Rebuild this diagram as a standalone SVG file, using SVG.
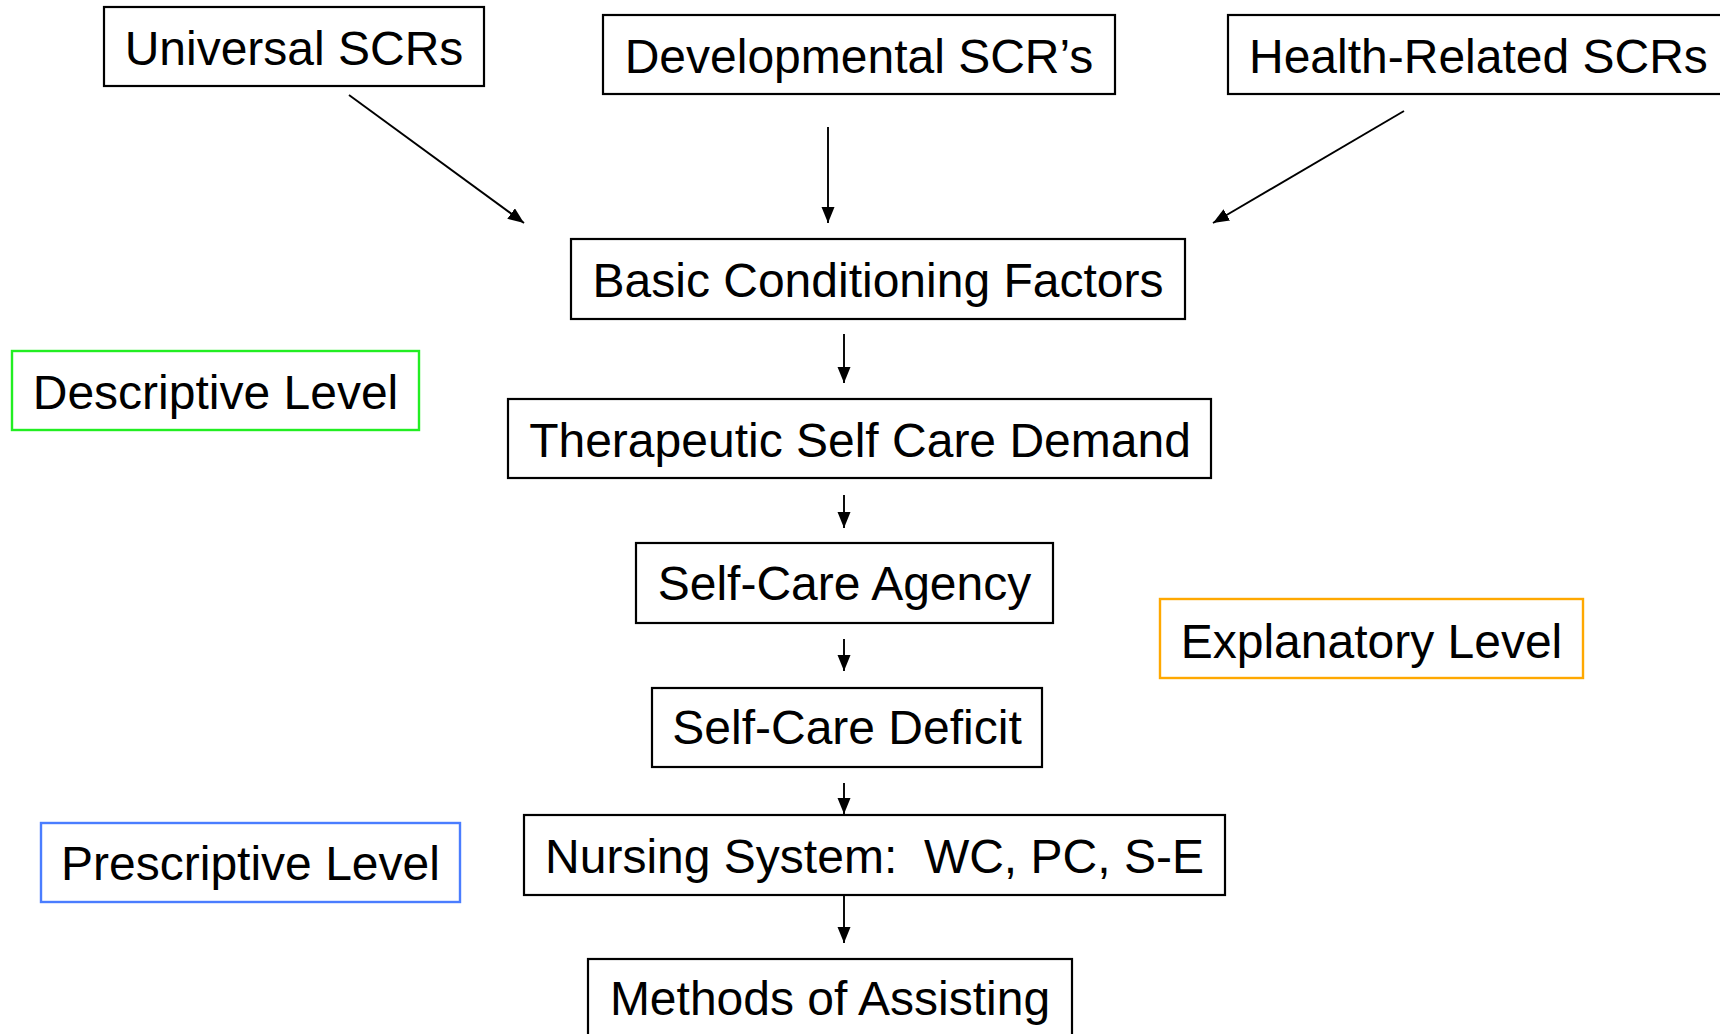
<svg xmlns="http://www.w3.org/2000/svg" width="1720" height="1034" viewBox="0 0 1720 1034">
<style>
.box{fill:#fff;stroke:#000;stroke-width:2.2}
.lvl{fill:#fff;stroke-width:2.4}
text{font-family:"Liberation Sans",Arial,sans-serif;font-size:48px;fill:#000;text-anchor:middle;white-space:pre}
.con{stroke:#000;stroke-width:1.9;fill:none;marker-end:url(#ah)}
</style>
<defs>
<marker id="ah" markerUnits="userSpaceOnUse" markerWidth="17" markerHeight="14" refX="16" refY="6.5" orient="auto">
<path d="M0,0 L16,6.5 L0,13 z" fill="#000"/>
</marker>
</defs>
<rect width="1720" height="1034" fill="#fff"/>
<g id="connectors">
<line class="con" x1="349" y1="95" x2="524" y2="223"/>
<line class="con" x1="828" y1="127" x2="828" y2="223"/>
<line class="con" x1="1404" y1="111" x2="1213" y2="223"/>
<line class="con" x1="844" y1="334" x2="844" y2="383"/>
<line class="con" x1="844" y1="495" x2="844" y2="528"/>
<line class="con" x1="844" y1="639" x2="844" y2="671"/>
<line class="con" x1="844" y1="783" x2="844" y2="814"/>
<line class="con" x1="844" y1="896" x2="844" y2="943"/>
</g>
<g id="universal"><rect class="box" x="104" y="7" width="380" height="79"/><text x="294" y="65">Universal SCRs</text></g>
<g id="developmental"><rect class="box" x="603" y="15" width="512" height="79"/><text x="859" y="73">Developmental SCR’s</text></g>
<g id="health"><rect class="box" x="1228" y="15" width="500" height="79"/><text x="1249" y="73" style="text-anchor:start">Health-Related SCRs</text></g>
<g id="bcf"><rect class="box" x="571" y="239" width="614" height="80"/><text x="878" y="297">Basic Conditioning Factors</text></g>
<g id="descriptive"><rect class="lvl" stroke="#22ee22" x="12" y="351" width="407" height="79"/><text x="215.5" y="409">Descriptive Level</text></g>
<g id="tscd"><rect class="box" x="508" y="399" width="703" height="79"/><text x="860" y="457">Therapeutic Self Care Demand</text></g>
<g id="sca"><rect class="box" x="636" y="543" width="417" height="80"/><text x="844.5" y="600">Self-Care Agency</text></g>
<g id="explanatory"><rect class="lvl" stroke="#ffa800" x="1160" y="599" width="423" height="79"/><text x="1371.5" y="658">Explanatory Level</text></g>
<g id="scd"><rect class="box" x="652" y="688" width="390" height="79"/><text x="847" y="744">Self-Care Deficit</text></g>
<g id="ns"><rect class="box" x="524" y="815" width="701" height="80"/><text x="874.5" y="873">Nursing System:  WC, PC, S-E</text></g>
<g id="prescriptive"><rect class="lvl" stroke="#4a7dff" x="41" y="823" width="419" height="79"/><text x="250.5" y="880">Prescriptive Level</text></g>
<g id="moa"><rect class="box" x="588" y="959" width="484" height="90"/><text x="830" y="1015">Methods of Assisting</text></g>
</svg>
